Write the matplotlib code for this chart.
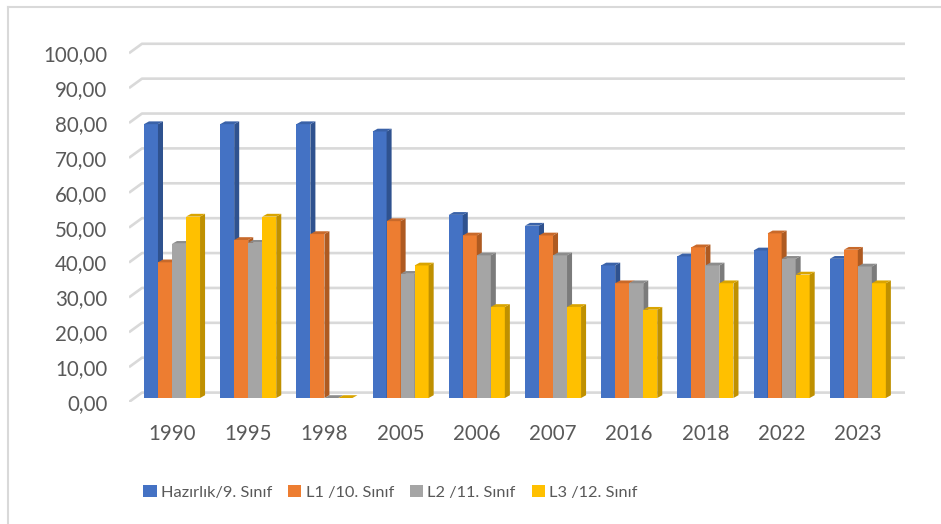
# grafico de barras con efecto 3D (estilo Excel)
import numpy as np
import matplotlib.pyplot as plt
from matplotlib.patches import Patch, Polygon
from matplotlib.lines import Line2D

# datos
years = ['1990', '1995', '1998', '2005', '2006', '2007', '2016', '2018', '2022', '2023']
series_names = ['Hazırlık/9. Sınıf', 'L1 /10. Sınıf', 'L2 /11. Sınıf', 'L3 /12. Sınıf']
hazirlik = [78.5, 78.5, 78.5, 76.4, 52.5, 49.4, 38.0, 40.6, 42.3, 39.9]
l1 = [38.9, 45.3, 47.0, 50.7, 46.6, 46.6, 32.9, 43.2, 47.2, 42.5]
l2 = [44.2, 44.5, 0.0, 35.6, 40.9, 40.9, 32.9, 38.0, 39.9, 37.7]
l3 = [52.0, 52.0, 0.0, 38.0, 26.1, 26.1, 25.3, 32.9, 35.4, 32.9]
yticks = [0, 10, 20, 30, 40, 50, 60, 70, 80, 90, 100]

# colores: frente, lado, techo
front = ['#4472C4', '#ED7D31', '#A5A5A5', '#FFC000']
side = ['#2F528F', '#AE5A21', '#7B7B7B', '#BF9000']
top = ['#3A62A8', '#C8692A', '#8C8C8C', '#D9A400']
txt = '#595959'
grid_c = '#D9D9D9'

plt.rcParams['font.family'] = ['Lato', 'DejaVu Sans']

fig = plt.figure(figsize=(9.41, 5.24), dpi=100)
ax = fig.add_axes([0.1371, 0.2328, 0.8247, 0.689])
ax.set_xlim(-0.564, 9.62)
ax.set_ylim(0, 103.5)

# profundidad de la pared y de las barras (en unidades de datos)
wall_dx, wall_dy = 0.17, 2.7
base = 1.15
bar_w = 0.184
bar_dx, bar_dy = 0.066, 0.8

# lineas de la cuadricula: pared de fondo + diagonal del suelo lateral
x0 = ax.get_xlim()[0]
x1 = ax.get_xlim()[1]
for v in yticks:
    ax.add_line(Line2D([x0, x0 + wall_dx, x1], [v, v + wall_dy, v + wall_dy],
                       color=grid_c, lw=1.9, zorder=0, solid_capstyle='butt'))

x = np.arange(len(years))
data = [hazirlik, l1, l2, l3]
for k, vals in enumerate(data):
    xs = x + (k - 1.5) * bar_w
    bars = ax.bar(xs, vals, width=bar_w, bottom=base, color=front[k],
                  zorder=2 + k, linewidth=0)
    for b, v in zip(bars, vals):
        xl = b.get_x()
        xr = xl + bar_w
        yt = base + v
        # lado derecho
        ax.add_patch(Polygon([[xr, base], [xr + bar_dx, base + bar_dy],
                              [xr + bar_dx, yt + bar_dy], [xr, yt]],
                             closed=True, color=side[k], lw=0, zorder=2 + k))
        # techo
        ax.add_patch(Polygon([[xl, yt], [xr, yt], [xr + bar_dx, yt + bar_dy],
                              [xl + bar_dx, yt + bar_dy]],
                             closed=True, color=top[k], lw=0, zorder=2 + k))

# ejes
ax.set_yticks(yticks)
ax.set_yticklabels([f'{v:.2f}'.replace('.', ',') for v in yticks])
ax.set_xticks(x)
ax.set_xticklabels(years)
ax.tick_params(axis='y', length=0, pad=15.5, labelsize=14.8, labelcolor=txt)
ax.tick_params(axis='x', length=0, pad=16, labelsize=14.8, labelcolor=txt)
for s in ax.spines.values():
    s.set_visible(False)
ax.patch.set_alpha(0)

# leyenda
handles = [Patch(facecolor=c, edgecolor='none') for c in front]
leg = fig.legend(handles, series_names, loc='center', bbox_to_anchor=(0.415, 0.061),
                 ncol=4, frameon=False, fontsize=11.8,
                 handlelength=0.8, handleheight=0.8, handletextpad=0.25,
                 columnspacing=1.0)
for t in leg.get_texts():
    t.set_color(txt)

# borde del grafico
fig.add_artist(Line2D([8 / 941, 8 / 941], [0, 1 - 7 / 524], color=grid_c, lw=1.5))
fig.add_artist(Line2D([8 / 941, 1], [1 - 7 / 524, 1 - 7 / 524], color=grid_c, lw=1.5))

fig.savefig('out.png', dpi=100)
